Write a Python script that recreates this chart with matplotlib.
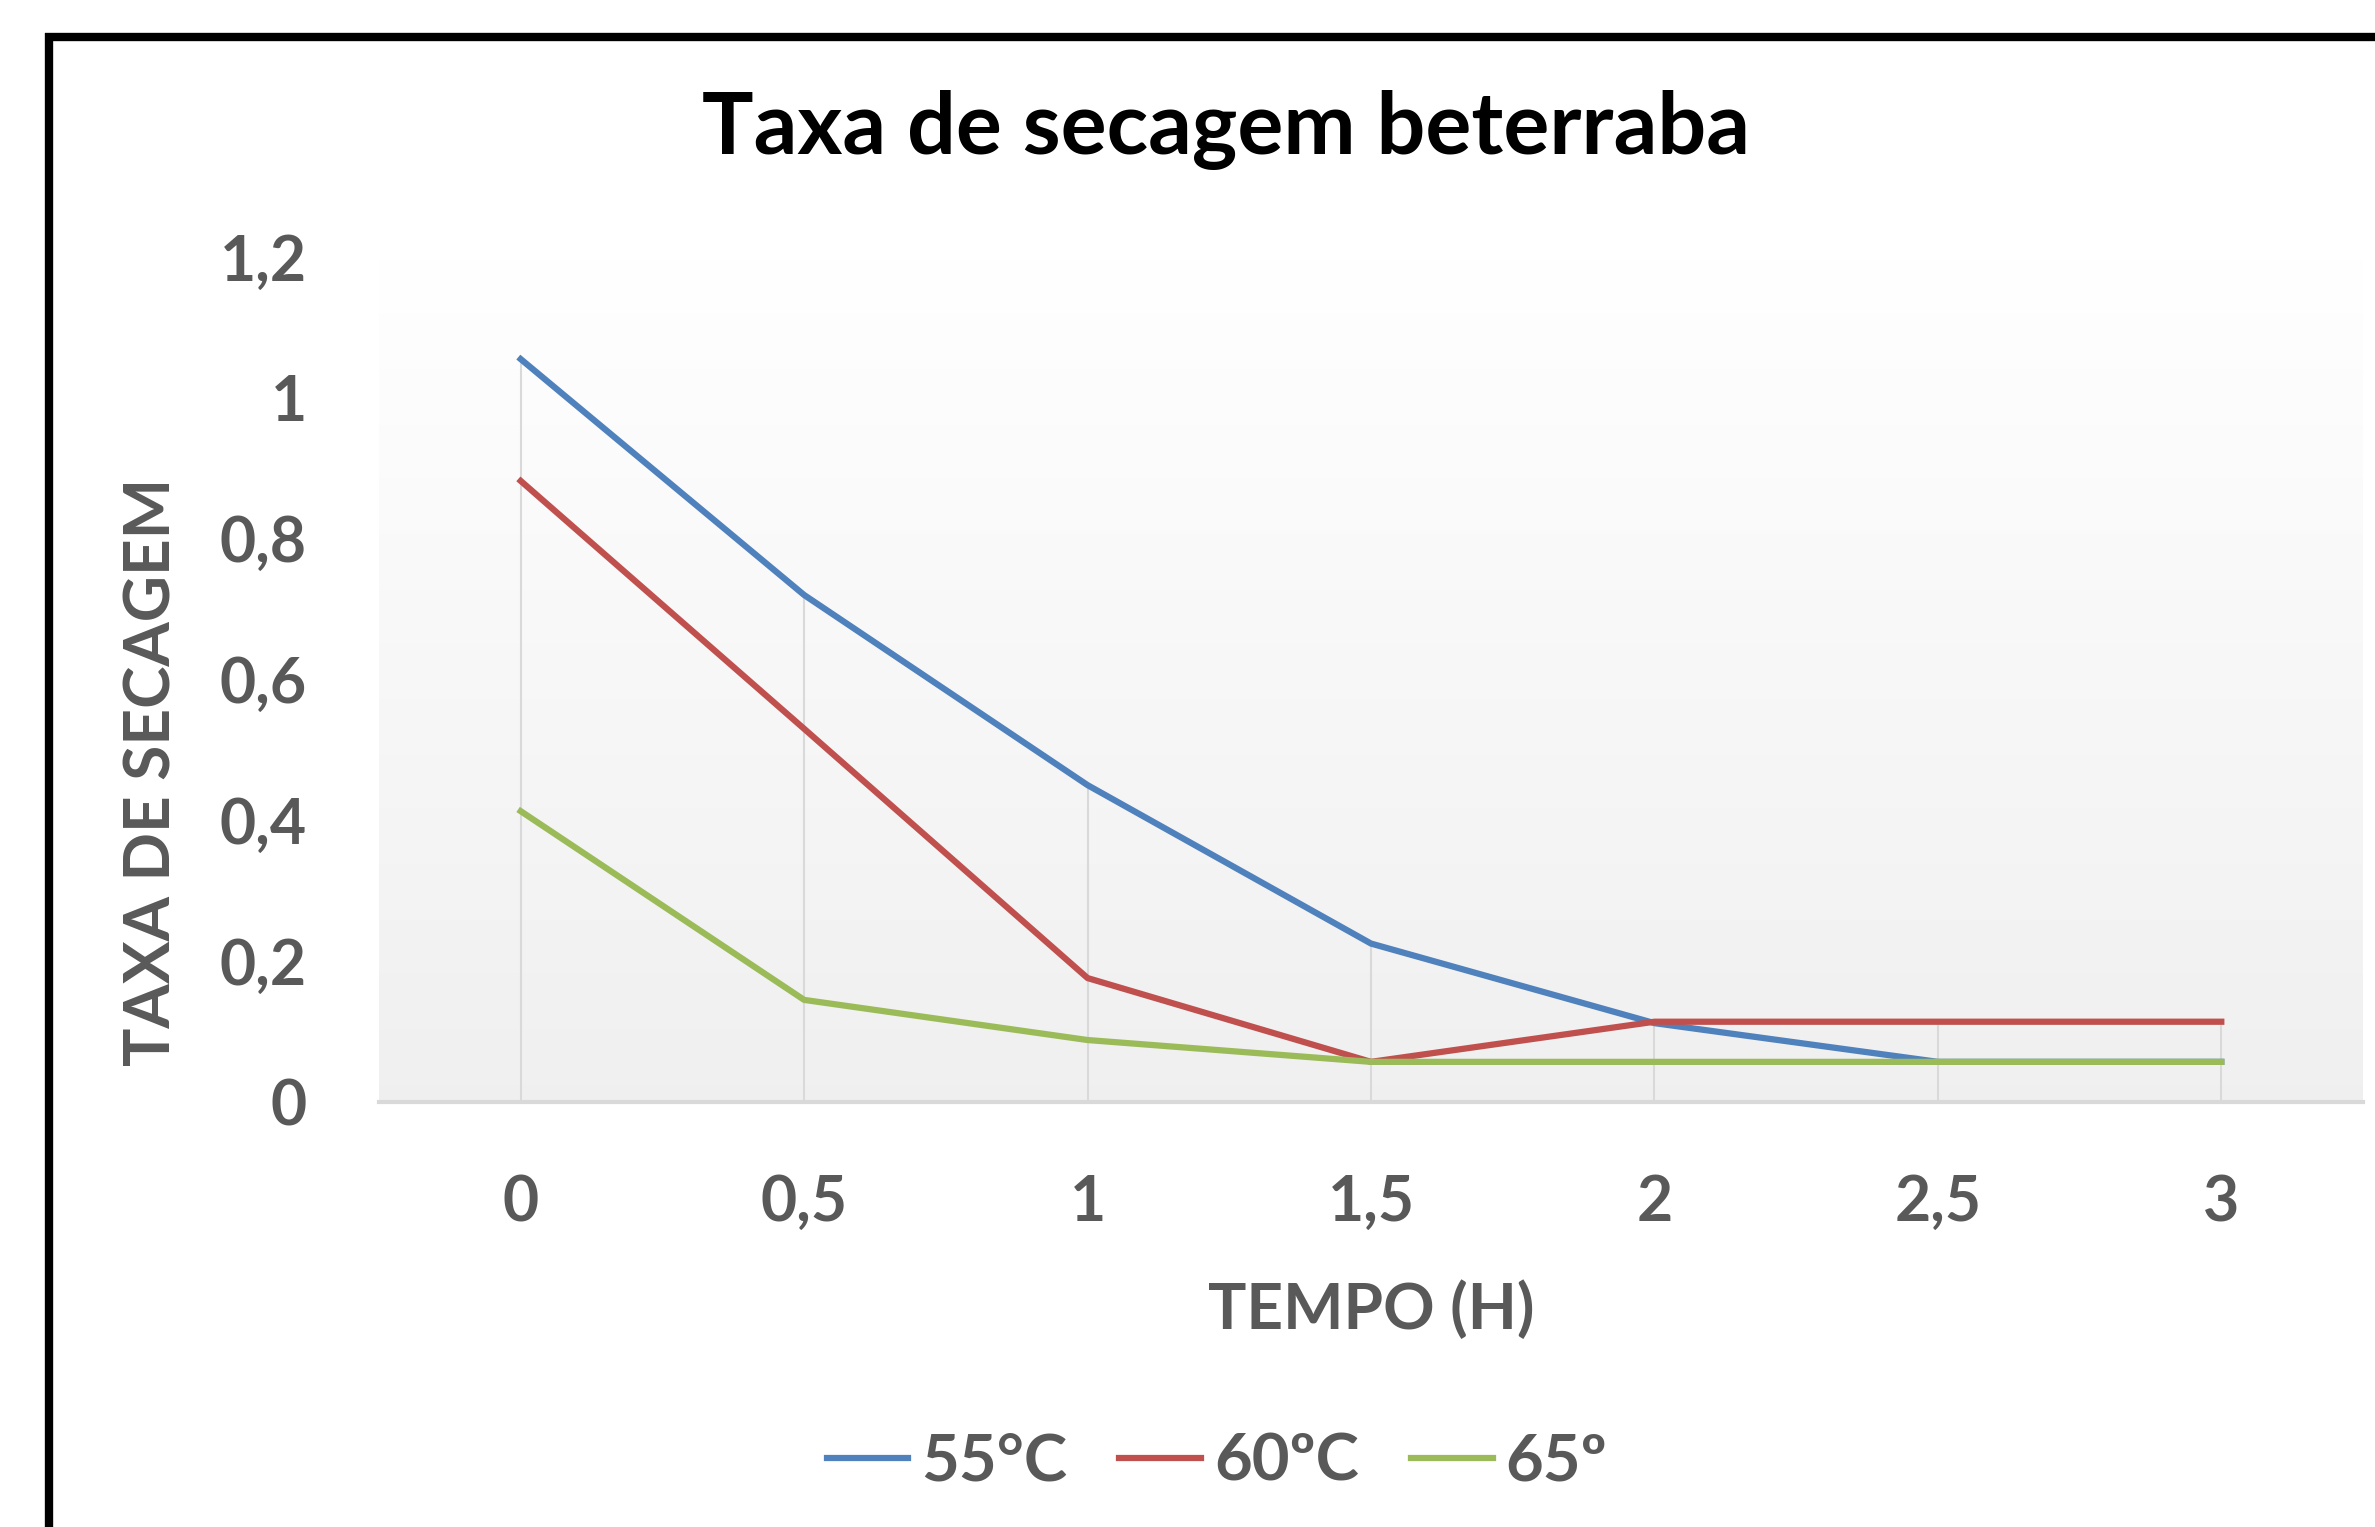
import numpy as np
import matplotlib
matplotlib.use("Agg")
import matplotlib.pyplot as plt
from matplotlib.lines import Line2D

# ===== DATA =====
tempo = [0, 0.5, 1, 1.5, 2, 2.5, 3]
tempo_labels = ["0", "0,5", "1", "1,5", "2", "2,5", "3"]
taxa_55 = [1.055, 0.72, 0.45, 0.225, 0.112, 0.057, 0.057]
taxa_60 = [0.882, 0.53, 0.176, 0.057, 0.114, 0.114, 0.114]
taxa_65 = [0.413, 0.145, 0.088, 0.057, 0.057, 0.057, 0.057]
y_ticks = [0, 0.2, 0.4, 0.6, 0.8, 1.0, 1.2]
y_labels = ["0", "0,2", "0,4", "0,6", "0,8", "1", "1,2"]

# ===== STYLE =====
W, H, DPI = 2375, 1527, 100
grey = "#595959"
plt.rcParams["font.family"] = ["Lato", "DejaVu Sans"]

fig = plt.figure(figsize=(W / DPI, H / DPI), dpi=DPI)
ax = fig.add_axes([379 / W, 1 - 1102 / H, (2363 - 379) / W, (1102 - 257) / H])
ax.set_facecolor("none")

# gradient plot area
grad = np.linspace(1.0, 0.0, 256).reshape(-1, 1)
top_c = np.array([1.0, 1.0, 1.0])
bot_c = np.array([0.94, 0.94, 0.94])
img = top_c * grad[..., None] + bot_c * (1 - grad[..., None])
ax.imshow(img, extent=[0, 1, 0, 1], transform=ax.transAxes, aspect="auto", zorder=0)

# drop lines
for i, t in enumerate(tempo):
    top = max(taxa_55[i], taxa_60[i], taxa_65[i])
    ax.vlines(t, 0, top, color="#d9d9d9", lw=1.5, zorder=1)

ax.plot(tempo, taxa_55, color="#4f81bd", lw=4.5, label="55°C", zorder=3)
ax.plot(tempo, taxa_60, color="#c0504d", lw=4.5, label="60ºC", zorder=4)
ax.plot(tempo, taxa_65, color="#9bbb59", lw=4.5, label="65º", zorder=5)

ax.set_xlim(-0.25, 3.25)
ax.set_ylim(0, 1.2)
ax.set_xticks(tempo)
ax.set_xticklabels(tempo_labels)
ax.set_yticks(y_ticks)
ax.set_yticklabels(y_labels)
for s in ["top", "right", "left"]:
    ax.spines[s].set_visible(False)
ax.spines["bottom"].set_color("#d9d9d9")
ax.spines["bottom"].set_linewidth(3)
ax.spines["bottom"].set_zorder(2)
ax.tick_params(axis="both", length=0, labelsize=45, labelcolor=grey)
ax.tick_params(axis="x", pad=52)
ax.tick_params(axis="y", pad=52)
for lbl in ax.get_xticklabels() + ax.get_yticklabels():
    lbl.set_fontweight("bold")

ax.set_xlabel("TEMPO (H)", fontsize=46, fontweight="bold", color=grey, labelpad=34)
ax.set_ylabel("TAXA DE SECAGEM", fontsize=46, fontweight="bold", color=grey)
ax.yaxis.set_label_coords(-0.1, (1102 - 772) / (1102 - 257))

fig.text(1226 / W, 1 - 130 / H, "Taxa de secagem beterraba", fontsize=62,
         fontweight="bold", color="black", ha="center", va="center")

leg = fig.legend(loc="center", bbox_to_anchor=(1217 / W, 1 - 1462 / H), ncol=3,
                 frameon=False, fontsize=47, handlelength=1.25, handletextpad=0.2,
                 columnspacing=0.8)
for t in leg.get_texts():
    t.set_color(grey)
    t.set_fontweight("bold")

# black frame (cropped at right and bottom)
fig.add_artist(Line2D([49 / W, 49 / W], [0, 1 - 33 / H], color="black", lw=6,
                      transform=fig.transFigure, solid_capstyle="butt"))
fig.add_artist(Line2D([45 / W, 1], [1 - 37 / H, 1 - 37 / H], color="black", lw=6,
                      transform=fig.transFigure, solid_capstyle="butt"))

fig.savefig("out.png", dpi=DPI, facecolor="white")
